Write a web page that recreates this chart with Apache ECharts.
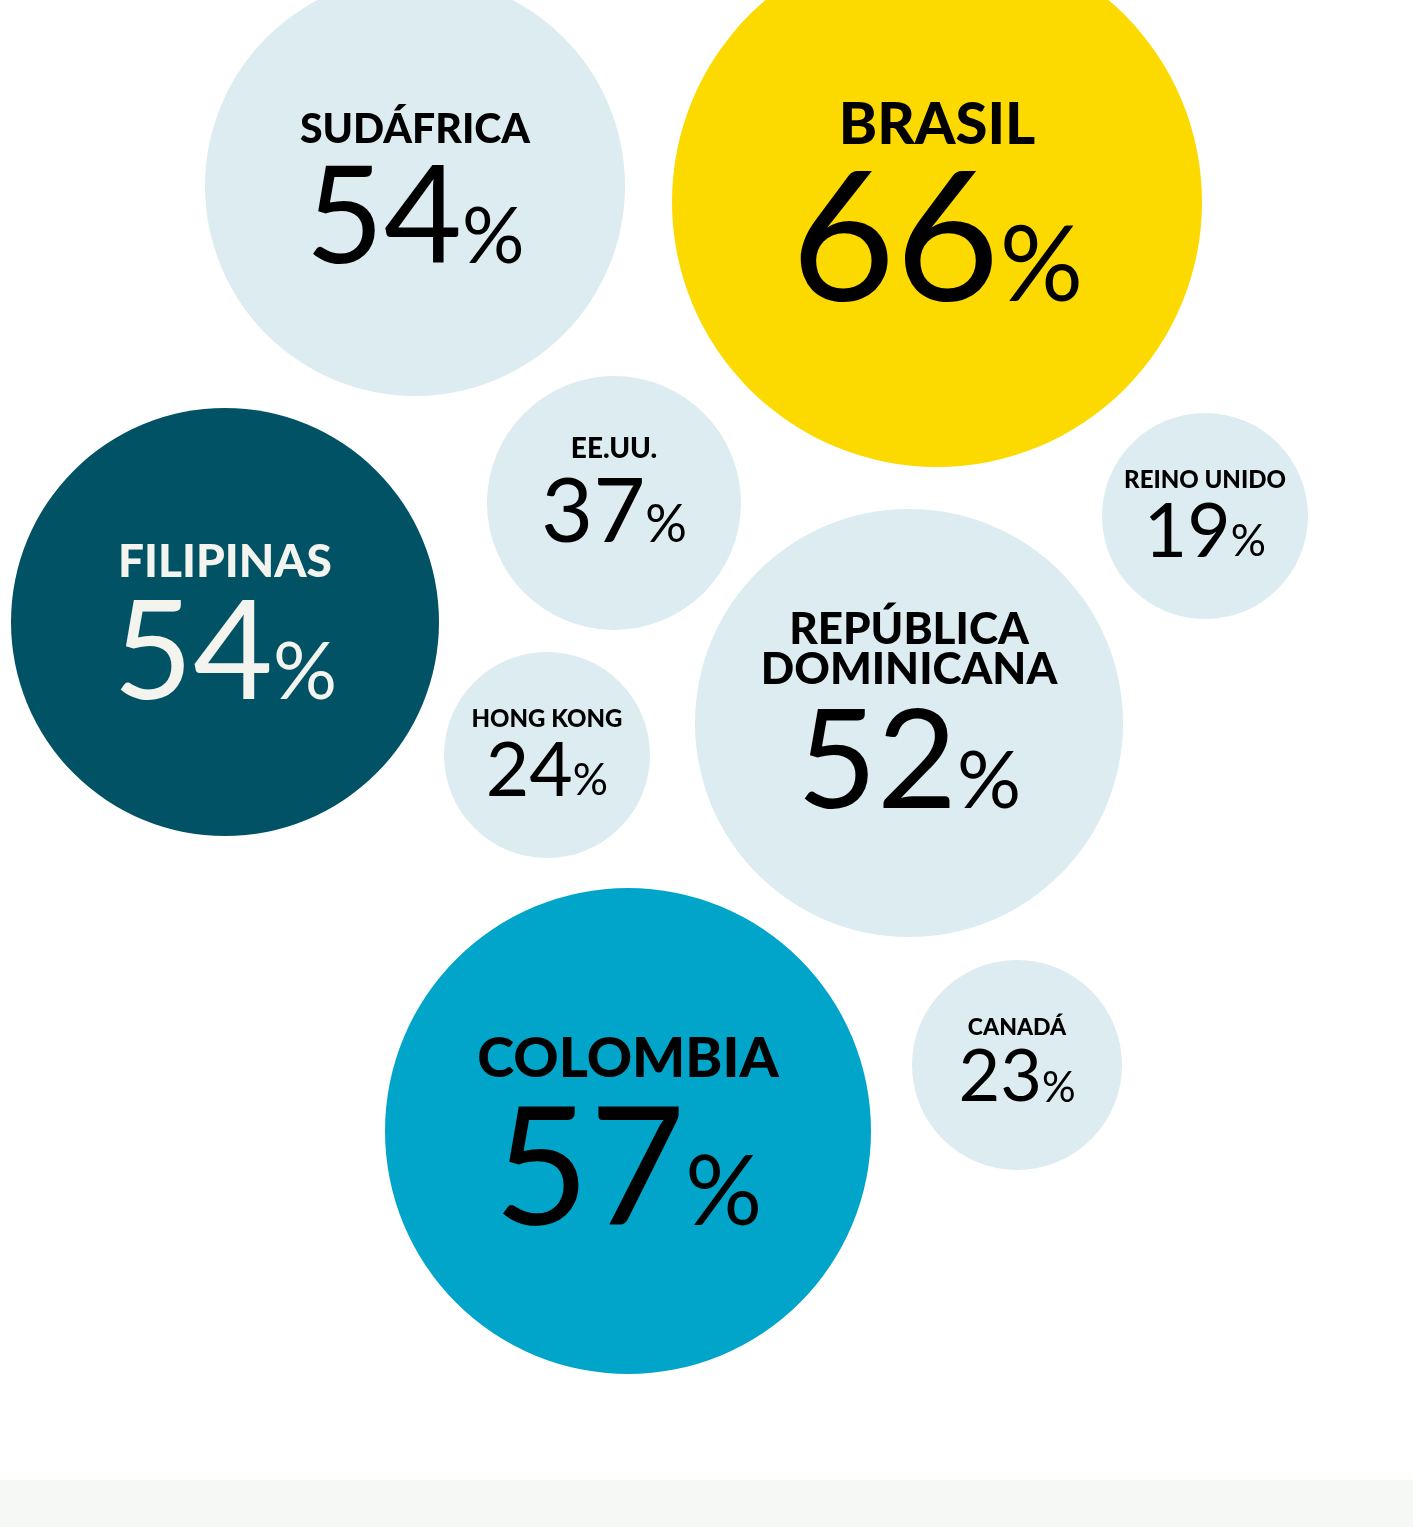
<!DOCTYPE html>
<html>
<head>
<meta charset="utf-8">
<script src="https://cdn.jsdelivr.net/npm/echarts@6/dist/echarts.min.js"></script>
<style>
  html, body { margin: 0; padding: 0; }
  body { background: linear-gradient(to bottom, #ffffff 1480px, #f6f8f6 1480px); }
  #chart { width: 1413px; height: 1527px; }
</style>
</head>
<body>
<div id="chart"></div>
<script>
// bubble data
const countries = ['SUDÁFRICA', 'BRASIL', 'FILIPINAS', 'EE.UU.', 'REINO UNIDO', 'HONG KONG', 'REPÚBLICA\nDOMINICANA', 'COLOMBIA', 'CANADÁ'];
const shares = [54, 66, 54, 37, 19, 24, 52, 57, 23];
const posX = [415, 937, 225, 614, 1205, 547, 909, 628, 1017];
const posY = [186, 202, 622, 503, 516, 755, 723, 1131, 1065];
const radius = [210, 265, 214, 127, 103, 103, 214, 243, 105];

// styling per bubble
const fills = ['#dcecf1', '#fcda00', '#005264', '#dcecf1', '#dcecf1', '#dcecf1', '#dcecf1', '#00a5c9', '#dcecf1'];
const inks = ['#000', '#000', '#f4f4ef', '#000', '#000', '#000', '#000', '#000', '#000'];
const nameSize = [41, 58, 46, 28, 24, 24, 44, 56, 23];
const numSize = [135, 180, 138, 90, 75, 75, 138, 165, 72];
const gapPx = [8, 9.5, 8, 8, 5.5, 5.5, 9, 10.5, 5.5];
const shiftY = [13, 14, 10, -6, 4, 4, -2, 12.5, 0.5];

const data = countries.map((c, i) => {
  const ns = numSize[i], ps = Math.round(ns * 0.58), g = gapPx[i];
  const lines = c.split('\n').map(l => '{name|' + l + '}').join('\n');
  return {
    name: c,
    value: [posX[i], posY[i], shares[i]],
    symbolSize: radius[i] * 2,
    itemStyle: { color: fills[i], opacity: 1 },
    label: {
      offset: [0, shiftY[i]],
      formatter: lines + '\n{num|' + shares[i] + '}{pct|%}',
      rich: {
        name: {
          fontFamily: 'Lato', fontWeight: 900, fontSize: nameSize[i],
          lineHeight: nameSize[i] * 0.92, color: inks[i], align: 'center'
        },
        num: {
          fontFamily: 'Lato', fontWeight: 400, fontSize: ns,
          lineHeight: ns * 0.9 + 2 * g, color: inks[i], verticalAlign: 'bottom'
        },
        pct: {
          fontFamily: 'Lato', fontWeight: 400, fontSize: ps,
          padding: [0, 0, Math.round(ns * 0.075), 0],
          color: inks[i], verticalAlign: 'bottom'
        }
      }
    }
  };
});

const chart = echarts.init(document.getElementById('chart'));
chart.setOption({
  animation: false,
  grid: { left: 0, right: 0, top: 0, bottom: 0 },
  xAxis: { type: 'value', min: 0, max: 1413, show: false },
  yAxis: { type: 'value', min: 0, max: 1527, inverse: true, show: false },
  series: [{
    type: 'scatter',
    symbol: 'circle',
    data: data,
    label: { show: true, position: 'inside', align: 'center' },
    emphasis: { disabled: true }
  }]
});
</script>
</body>
</html>
